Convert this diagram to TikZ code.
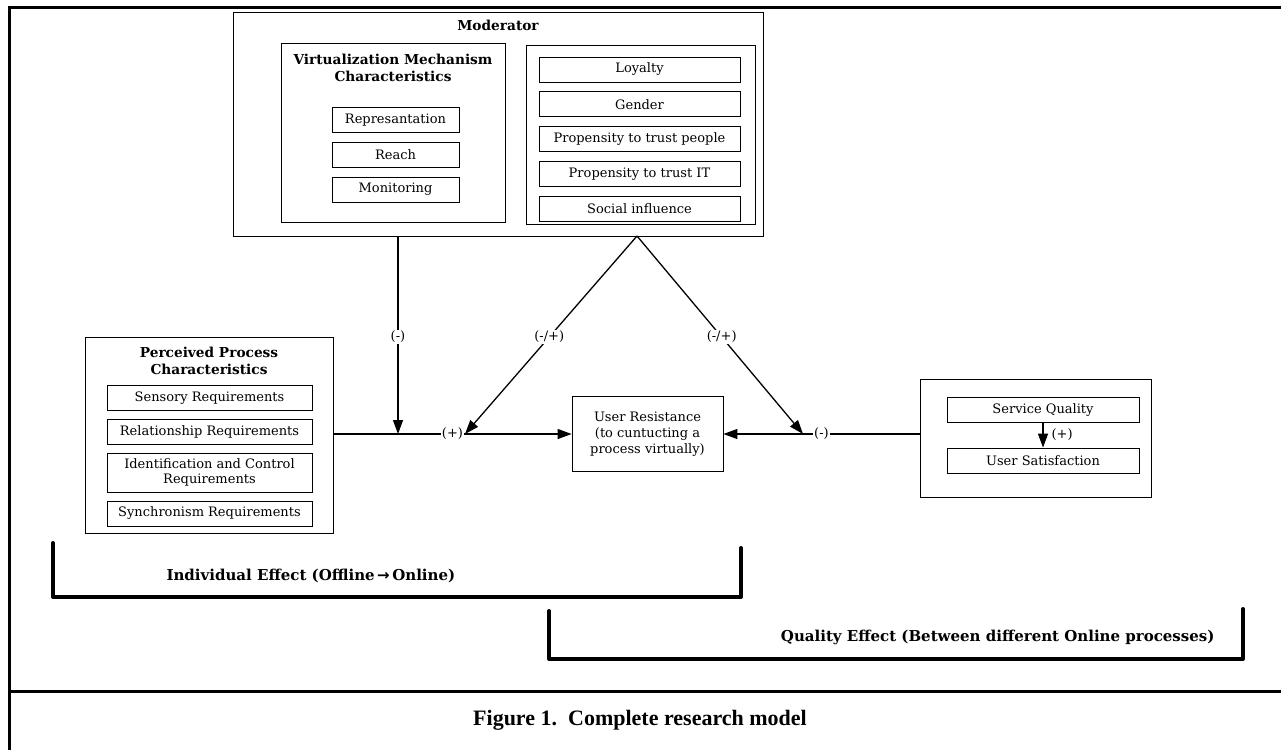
\documentclass[tikz,border=0pt]{standalone}
\usepackage{fontspec}
\setmainfont{DejaVu Serif}
\newfontfamily\captionfont{Liberation Serif}
\newfontfamily\symfont{DejaVu Sans}
\usetikzlibrary{
  arrows.meta,
  positioning
}
\tikzset{
  x=1pt, y=-1pt,
  box/.style={
    draw,
    line width=0.8pt,
    inner sep=0pt
  },
  item/.style={
    box,
    minimum height=25pt,
    font=\fontsize{13}{15}\selectfont
  },
  heading/.style={
    inner sep=0pt,
    align=center,
    font=\bfseries\fontsize{13.7}{17}\selectfont
  },
  link/.style={
    line width=1.3pt,
    -{Triangle[length=14pt,width=10pt]}
  },
  sign/.style={
    fill=white,
    inner sep=1pt,
    font=\fontsize{13}{15}\selectfont
  },
  frame/.style={line width=3pt},
  bracket/.style={line width=4pt, line cap=round, line join=round},
  effect/.style={font=\bfseries\fontsize{15}{17}\selectfont}
}

\begin{document}
\begin{tikzpicture}
  \useasboundingbox (0,0) rectangle (1281,750);
  % outer frame
  \draw[frame] (8,7) -- (1281,7);
  \draw[frame] (9,7) -- (9,750);
  \draw[frame] (9,691) -- (1281,691);

  % moderator
  \node[box, minimum width=530pt, minimum height=224pt] (moderator) at (498,124) {};
  \node[heading, below=8pt of moderator.north] (modtitle) {Moderator};
  \node[box, minimum width=224pt, minimum height=179pt] (vmc) at (393,132.5) {};
  \node[heading, below=11pt of vmc.north] (vmctitle) {Virtualization Mechanism\\Characteristics};
  \node[item, minimum width=127pt] (repr) at (395.5,120) {Represantation};
  \node[item, minimum width=127pt, below=9pt of repr] (reach) {Reach};
  \node[item, minimum width=127pt, below=9pt of reach] (monitor) {Monitoring};
  \node[box, minimum width=229pt, minimum height=179pt] (traits) at (640.5,134.5) {};
  \node[item, minimum width=201pt] (loyalty) at (639.5,69.5) {Loyalty};
  \node[item, minimum width=201pt, below=9pt of loyalty] (gender) {Gender};
  \node[item, minimum width=201pt, below=9pt of gender] (trustpeople) {Propensity to trust people};
  \node[item, minimum width=201pt, below=9pt of trustpeople] (trustit) {Propensity to trust IT};
  \node[item, minimum width=201pt, below=9pt of trustit] (social) {Social influence};

  % perceived process characteristics
  \node[box, minimum width=248pt, minimum height=196pt] (ppc) at (209,435) {};
  \node[heading, below=10pt of ppc.north] (ppctitle) {Perceived Process\\Characteristics};
  \node[item, minimum width=205pt] (sensory) at (209.5,398) {Sensory Requirements};
  \node[item, minimum width=205pt, below=8pt of sensory] (relation) {Relationship Requirements};
  \node[item, minimum width=205pt, minimum height=39pt, align=center, below=8pt of relation] (ident) {Identification and Control\\Requirements};
  \node[item, minimum width=205pt, below=8pt of ident] (synchron) {Synchronism Requirements};

  % user resistance
  \node[box, minimum width=151pt, minimum height=75pt, align=center,
    font=\fontsize{13}{16}\selectfont] (resist) at (647.5,434)
    {User Resistance\\(to cuntucting a\\process virtually)};

  % quality
  \node[box, minimum width=231pt, minimum height=118pt] (quality) at (1035.5,438) {};
  \node[item, minimum width=192pt] (service) at (1043,409.5) {Service Quality};
  \node[item, minimum width=192pt] (satisfy) at (1043,460.5) {User Satisfaction};

  \coordinate (modfoot) at (398,236);
  \coordinate (apex) at (637,236);
  \coordinate (jdown) at (398,434);
  \coordinate (jleft) at (465,434);
  \coordinate (jright) at (803,434);

  \draw[link] (ppc.east |- resist.west) -- node[sign, pos=.5] {(+)} (resist.west);
  \draw[link] (quality.west |- resist.east) -- node[sign, pos=.5] {(-)} (resist.east);
  \draw[link] (modfoot) -- node[sign, pos=.51] {(-)} (jdown);
  \draw[link] (apex) -- node[sign, pos=.51] {(-/+)} (jleft);
  \draw[link] (apex) -- node[sign, pos=.51] {(-/+)} (jright);
  \draw[link] (service) -- node[sign, fill=none, right=7pt] {(+)} (satisfy);

  % effects
  \draw[bracket] (53,543) -- (53,597) -- (741,597) -- (741,548);
  \node[effect, anchor=west] (indiv) at (163,576) {Individual Effect (Offline\,{\symfont\bfseries →}\,Online)};
  \draw[bracket] (549,611) -- (549,659) -- (1243,659) -- (1243,609);
  \node[effect, anchor=east] (qualeff) at (1218,637) {Quality Effect (Between different Online processes)};

  \node[font=\captionfont\bfseries\fontsize{22}{24}\selectfont] (caption) at (640,720)
    {Figure 1.\ \ Complete research model};
\end{tikzpicture}
\end{document}
